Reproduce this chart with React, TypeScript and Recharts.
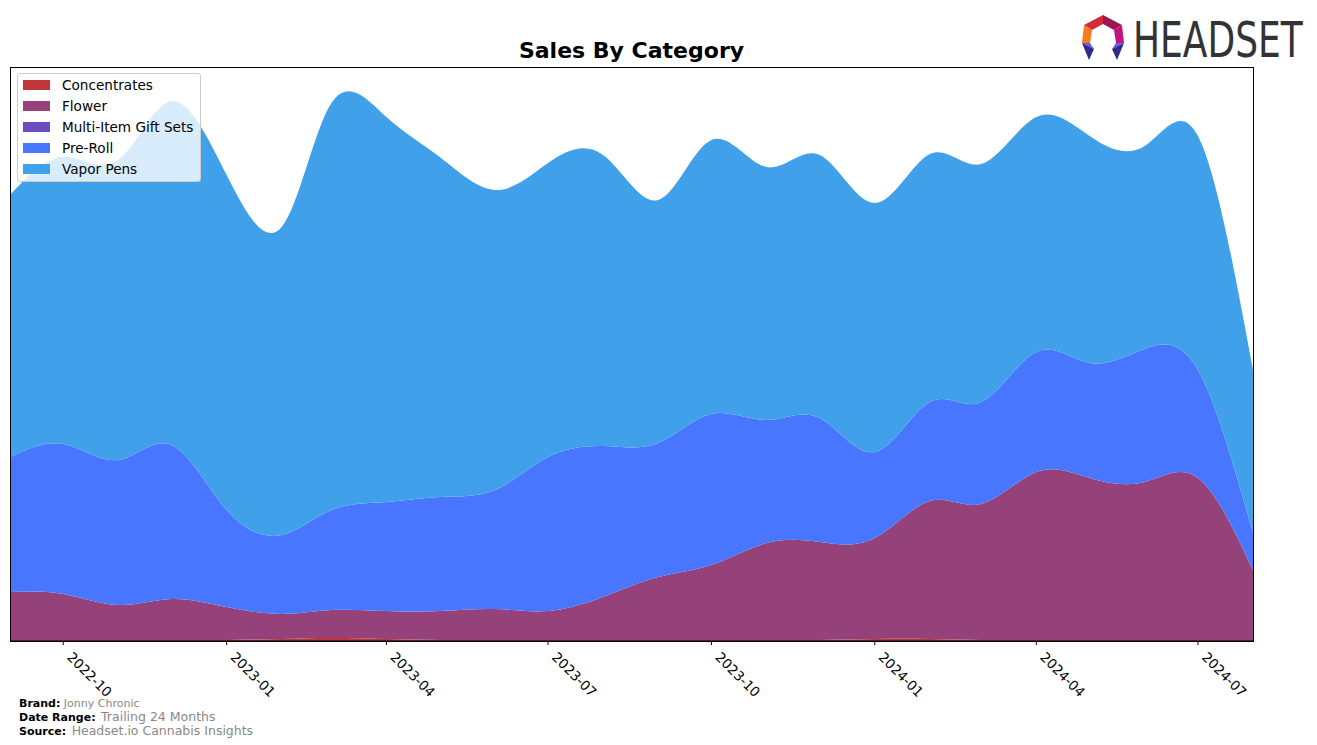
import React from "react";
import { AreaChart, Area, XAxis, YAxis } from "recharts";

// monthly points, 2022-09 .. 2024-08
const months = [
  "2022-09", "2022-10", "2022-11", "2022-12",
  "2023-01", "2023-02", "2023-03", "2023-04", "2023-05", "2023-06",
  "2023-07", "2023-08", "2023-09", "2023-10", "2023-11", "2023-12",
  "2024-01", "2024-02", "2024-03", "2024-04", "2024-05", "2024-06",
  "2024-07", "2024-08",
];

const concentrates = [1, 1, 1, 1, 1, 2, 3, 2, 1, 1, 1, 1, 1, 1, 1, 1, 2, 2, 1, 1, 1, 1, 1, 1];
const flower = [48, 46, 35, 41, 33, 25, 28, 28, 29, 31, 29, 43, 63, 75, 97, 98, 101, 138, 136, 168, 162, 158, 162, 70];
const giftSets = [0, 0, 0, 0, 0, 0, 0, 0, 0, 0, 0, 0, 0, 0, 0, 0, 0, 0, 0, 0, 0, 0, 0, 0];
const preRoll = [135, 150, 145, 154, 97, 79, 100, 109, 114, 119, 154, 151, 134, 151, 123, 124, 86, 99, 102, 120, 115, 133, 108, 37];
const vaporPens = [262, 287, 300, 344, 335, 308, 407, 385, 340, 300, 294, 291, 243, 274, 253, 263, 249, 248, 238, 235, 227, 203, 234, 163];

const tickMonths = ["2022-10", "2023-01", "2023-04", "2023-07", "2023-10", "2024-01", "2024-04", "2024-07"];

const toTime = (m: string) => {
  const [y, mo] = m.split("-").map(Number);
  return Date.UTC(y, mo - 1, 1);
};

const series = [
  { key: "Concentrates", color: "#c1363b" },
  { key: "Flower", color: "#96427a" },
  { key: "Multi-Item Gift Sets", color: "#6b4cc1" },
  { key: "Pre-Roll", color: "#4876ff" },
  { key: "Vapor Pens", color: "#40a0e9" },
];

const data = months.map((m, i) => ({
  date: toTime(m),
  Concentrates: concentrates[i],
  Flower: flower[i],
  "Multi-Item Gift Sets": giftSets[i],
  "Pre-Roll": preRoll[i],
  "Vapor Pens": vaporPens[i],
}));

const FONT = "'DejaVu Sans', sans-serif";

const DateTick = ({ x, y, payload }: any) => {
  const d = new Date(payload.value);
  const label = `${d.getUTCFullYear()}-${String(d.getUTCMonth() + 1).padStart(2, "0")}`;
  return (
    <g transform={`translate(${x},${y})`}>
      <text
        x={0}
        y={0}
        transform="translate(3,11) rotate(45)"
        fontSize={13.5}
        fontFamily={FONT}
        fill="#000"
      >
        {label}
      </text>
    </g>
  );
};

// logo: icon + narrowed wordmark
const Logo = () => (
  <svg
    width={239}
    height={66}
    style={{ position: "absolute", left: 1078, top: 1 }}
  >
    <g transform="translate(2,14)">
      <polygon points="23,0 4,10 12,15 23,9" fill="#d42a3a" />
      <polygon points="23,0 42,10 34,15 23,9" fill="#9b1750" />
      <polygon points="4,10 2,28 10,28 12,15" fill="#f47b20" />
      <polygon points="42,10 44,28 36,28 34,15" fill="#c4127e" />
      <polygon points="2,28 10,28 14,34" fill="#6a5be0" />
      <polygon points="2,28 14,34 9,45" fill="#2e2a8a" />
      <polygon points="44,28 36,28 32,34" fill="#6a5be0" />
      <polygon points="44,28 32,34 37,45" fill="#2e2a8a" />
    </g>
    <g transform="translate(55,56) scale(0.8,1.12)">
      <text x={0} y={0} fontSize={45} fontFamily={FONT} fill="#333">
        HEADSET
      </text>
    </g>
  </svg>
);

const LegendBox = () => (
  <div
    style={{
      position: "absolute",
      left: 17,
      top: 73,
      width: 184,
      height: 109,
      boxSizing: "border-box",
      background: "rgba(255,255,255,0.8)",
      border: "1px solid #cccccc",
      borderRadius: 3,
      fontFamily: FONT,
      fontSize: 13.6,
      color: "#000",
      pointerEvents: "none",
    }}
  >
    {series.map((s, i) => (
      <div
        key={s.key}
        style={{
          position: "absolute",
          left: 5,
          top: 3 + i * 21,
          height: 16,
          display: "flex",
          alignItems: "center",
          whiteSpace: "nowrap",
        }}
      >
        <span
          style={{
            display: "inline-block",
            width: 27,
            height: 10,
            background: s.color,
            marginRight: 12,
          }}
        />
        <span>{s.key}</span>
      </div>
    ))}
  </div>
);

export default function App() {
  return (
    <div
      style={{
        position: "absolute",
        left: 0,
        top: 0,
        width: 1317,
        height: 745,
        background: "#fff",
        overflow: "hidden",
      }}
    >
      <div
        style={{
          position: "absolute",
          left: 0,
          width: 1263,
          top: 38,
          textAlign: "center",
          fontFamily: FONT,
          fontWeight: "bold",
          fontSize: 22,
          lineHeight: "26px",
        }}
      >
        Sales By Category
      </div>

      <AreaChart
        width={1317}
        height={745}
        data={data}
        margin={{ top: 67, left: 10, right: 64, bottom: 44 }}
        style={{ position: "absolute", left: 0, top: 0 }}
      >
        <XAxis
          dataKey="date"
          type="number"
          scale="time"
          domain={[toTime(months[0]), toTime(months[months.length - 1])]}
          ticks={tickMonths.map(toTime)}
          tick={<DateTick />}
          tickSize={4}
          tickMargin={2}
          height={60}
          stroke="#000"
          tickLine={{ stroke: "#000" }}
          allowDataOverflow
        />
        <YAxis hide width={0} domain={[0, 574]} allowDataOverflow />
        {series.map((s) => (
          <Area
            key={s.key}
            type="natural"
            dataKey={s.key}
            stackId="1"
            stroke="none"
            fill={s.color}
            fillOpacity={1}
            isAnimationActive={false}
            dot={false}
            activeDot={false}
          />
        ))}
      </AreaChart>

      <div
        style={{
          position: "absolute",
          left: 10,
          top: 67,
          width: 1244,
          height: 575,
          boxSizing: "border-box",
          border: "1px solid #000",
          pointerEvents: "none",
        }}
      />

      <LegendBox />
      <Logo />

      <div
        style={{
          position: "absolute",
          left: 19,
          top: 698,
          fontFamily: FONT,
          lineHeight: "12.8px",
          color: "#000",
        }}
      >
        <div style={{ fontSize: 11 }}>
          <b>Brand:</b> <span style={{ color: "#888" }}>Jonny Chronic</span>
        </div>
        <div style={{ fontSize: 11 }}>
          <b>Date Range:</b>{" "}
          <span style={{ color: "#888", fontSize: 12.5, marginLeft: 2 }}>Trailing 24 Months</span>
        </div>
        <div style={{ fontSize: 11 }}>
          <b>Source:</b>{" "}
          <span style={{ color: "#888", fontSize: 12.5, marginLeft: 2 }}>Headset.io Cannabis Insights</span>
        </div>
      </div>
    </div>
  );
}
